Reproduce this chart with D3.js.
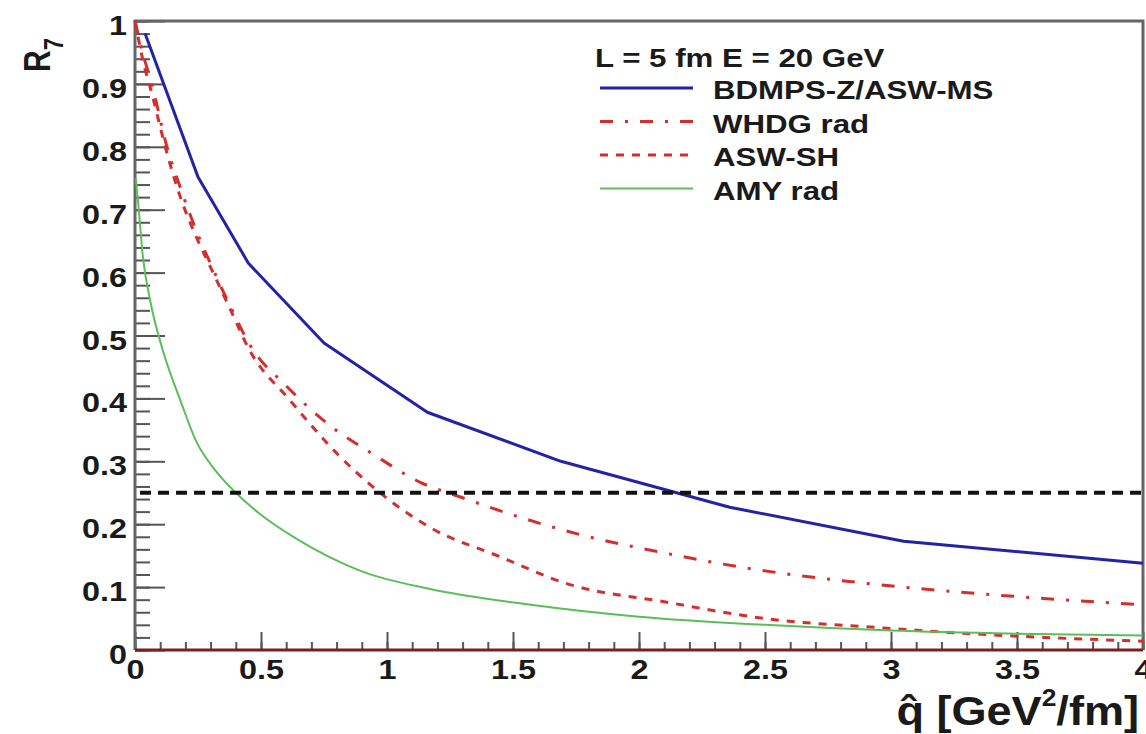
<!DOCTYPE html>
<html>
<head>
<meta charset="utf-8">
<script src="https://cdn.jsdelivr.net/npm/d3@7"></script>
<style>
	body { margin: 0; background: #fff; }
	svg { display: block; }
	text { font-family: "Liberation Sans", Arial, sans-serif; font-weight: bold; fill: #1a1a1a; }
</style>
</head>
<body>
<svg></svg>
<script>

// DATA

var q_bdmps = [0.04, 0.25, 0.45, 0.75, 1.16, 1.69, 2.36, 3.05, 4.0]
var r_bdmps = [0.98, 0.752, 0.615, 0.488, 0.378, 0.30, 0.227, 0.173, 0.138]

var q_whdg = [0.0, 0.03, 0.07, 0.12, 0.18, 0.245, 0.31, 0.38, 0.456, 0.6, 0.77, 0.95, 1.13, 1.3, 1.56, 1.8, 2.08, 2.4, 2.9, 3.4, 4.0]
var r_whdg = [1.0, 0.95, 0.895, 0.81, 0.735, 0.665, 0.605, 0.545, 0.485, 0.42, 0.358, 0.31, 0.267, 0.242, 0.207, 0.18, 0.156, 0.132, 0.106, 0.088, 0.072]

var q_aswsh = [0.0, 0.03, 0.07, 0.12, 0.18, 0.245, 0.31, 0.38, 0.45, 0.615, 0.8, 0.96, 1.17, 1.45, 1.71, 2.11, 2.5, 2.97, 3.5, 4.0]
var r_aswsh = [1.0, 0.94, 0.88, 0.8, 0.72, 0.655, 0.6, 0.54, 0.48, 0.397, 0.313, 0.254, 0.195, 0.148, 0.106, 0.076, 0.05, 0.035, 0.022, 0.014]

var q_amy = [0.003, 0.015, 0.03, 0.06, 0.11, 0.18, 0.245, 0.31, 0.4, 0.5, 0.64, 0.77, 0.9, 1.17, 1.57, 2.0, 2.5, 3.0, 3.5, 4.0]
var r_amy = [0.75, 0.70, 0.63, 0.556, 0.477, 0.397, 0.33, 0.29, 0.25, 0.215, 0.177, 0.148, 0.125, 0.097, 0.072, 0.053, 0.04, 0.031, 0.026, 0.023]

var names = ['BDMPS-Z/ASW-MS', 'WHDG rad', 'ASW-SH', 'AMY rad']
var header = 'L = 5 fm E = 20 GeV'
var r_cut = 0.25

var x_major = [0, 0.5, 1, 1.5, 2, 2.5, 3, 3.5, 4]
var y_major = [0, 0.1, 0.2, 0.3, 0.4, 0.5, 0.6, 0.7, 0.8, 0.9, 1]

// vis variables
var width = 1146
var height = 734

var svg = d3.select("svg")
	.attr("width", width)
	.attr("height", height)

var x = d3.scaleLinear().domain([0, 4]).range([135, 1143])
var y = d3.scaleLinear().domain([0, 1]).range([650, 21])

var fmt = d3.format(".2~f")

var series = [
	{ name: names[0], q: q_bdmps, r: r_bdmps, color: '#2323a6', dash: null,         w: 3, smooth: false },
	{ name: names[1], q: q_whdg,  r: r_whdg,  color: '#d22f2f', dash: '13,12,3,12', w: 3, smooth: true },
	{ name: names[2], q: q_aswsh, r: r_aswsh, color: '#d22f2f', dash: '8,8',        w: 3, smooth: true },
	{ name: names[3], q: q_amy,   r: r_amy,   color: '#5cbd5c', dash: null,         w: 2, smooth: true },
]

// UTILS

function label(parent, px, py, str, size, k, anchor){
	return parent.append("text")
		.attr("transform", "translate(" + px + "," + py + ") scale(" + k + ",1)")
		.attr("text-anchor", anchor || "start")
		.style("font-size", size + "px")
		.text(str)
}

// AXES

var minor_y = d3.range(0, 51).map(function(i){ return i / 50 })
var minor_x = d3.range(0, 41).map(function(i){ return i / 10 })

svg.append("g")
	.attr("transform", "translate(135,0)")
	.call(d3.axisLeft(y).tickValues(minor_y).tickSize(-15).tickFormat(""))
	.call(function(g){ g.select(".domain").remove() })
	.selectAll("line").attr("stroke", "#555").attr("stroke-width", 2)

svg.append("g")
	.attr("transform", "translate(0,650)")
	.call(d3.axisBottom(x).tickValues(minor_x).tickSize(-8).tickFormat(""))
	.call(function(g){ g.select(".domain").remove() })
	.selectAll("line").attr("stroke", "#555").attr("stroke-width", 2)

var k_tick = 1.2

var y_axis = svg.append("g")
	.attr("transform", "translate(135,0)")
	.call(d3.axisLeft(y).tickValues(y_major).tickSize(-30).tickPadding(8).tickFormat(fmt))
	.call(function(g){ g.select(".domain").remove() })

y_axis.selectAll("line").attr("stroke", "#555").attr("stroke-width", 2)
y_axis.selectAll("text")
	.attr("x", -8 / k_tick)
	.attr("dy", "0.5em")
	.attr("transform", "scale(" + k_tick + ",1)")
	.style("font-size", "27px")
	.attr("font-family", null)
	.attr("fill", null)

var x_axis = svg.append("g")
	.attr("transform", "translate(0,650)")
	.call(d3.axisBottom(x).tickValues(x_major).tickSize(-18).tickPadding(10).tickFormat(fmt))
	.call(function(g){ g.select(".domain").remove() })

x_axis.selectAll("line").attr("stroke", "#555").attr("stroke-width", 2)
x_axis.selectAll("text")
	.attr("transform", "scale(" + k_tick + ",1)")
	.style("font-size", "27px")
	.attr("font-family", null)
	.attr("fill", null)

// frame
svg.append("path")
	.attr("d", "M" + x(0) + "," + y(0) + "V" + y(1) + "H" + x(4) + "V" + y(0))
	.attr("fill", "none")
	.attr("stroke", "#666")
	.attr("stroke-width", 3)

// CURVES

var line = d3.line()
	.x(function(d){ return x(d[0]) })
	.y(function(d){ return y(d[1]) })

var smooth_line = d3.line()
	.x(function(d){ return x(d[0]) })
	.y(function(d){ return y(d[1]) })
	.curve(d3.curveMonotoneX)

svg.append("g")
	.attr("class", "curves")
	.selectAll("path")
	.data(series)
	.enter()
	.append("path")
	.attr("d", function(s){
		var pts = d3.zip(s.q, s.r)
		return s.smooth ? smooth_line(pts) : line(pts)
	})
	.attr("fill", "none")
	.attr("stroke", function(s){ return s.color })
	.attr("stroke-width", function(s){ return s.w })
	.attr("stroke-dasharray", function(s){ return s.dash })
	.attr("stroke-linejoin", "round")

// R = 0.25 line
svg.append("line")
	.attr("x1", x(0.02)).attr("x2", x(4))
	.attr("y1", y(r_cut)).attr("y2", y(r_cut))
	.attr("stroke", "#111")
	.attr("stroke-width", 4)
	.attr("stroke-dasharray", "11,7")

// bottom axis line
svg.append("line")
	.attr("x1", x(0)).attr("x2", x(4))
	.attr("y1", y(0)).attr("y2", y(0))
	.attr("stroke", "#7a1e1e")
	.attr("stroke-width", 3)

// LEGEND

var legend = svg.append("g").attr("class", "legend")
var k_leg = 1.25

label(legend, 595, 67, header, 25, k_leg)

series.forEach(function(s, i){
	var ly = 88 + i * 33.5
	legend.append("line")
		.attr("x1", 600).attr("x2", 693)
		.attr("y1", ly).attr("y2", ly)
		.attr("stroke", s.color)
		.attr("stroke-width", s.w)
		.attr("stroke-dasharray", s.dash)
	label(legend, 713, ly + 11, s.name, 25, k_leg)
})

// TITLES

var xt = label(svg, 1139, 725, null, 41, 1.1, "end")
xt.append("tspan").text("q\u0302 [GeV")
xt.append("tspan").attr("dy", -19).style("font-size", "24px").text("2")
xt.append("tspan").attr("dy", 19).text("/fm]")

var yt = svg.append("text")
	.attr("transform", "translate(50,72) rotate(-90) scale(1,1.25)")
	.style("font-size", "30px")
yt.append("tspan").text("R")
yt.append("tspan").attr("dy", 10).style("font-size", "22px").text("7")

</script>
</body>
</html>
